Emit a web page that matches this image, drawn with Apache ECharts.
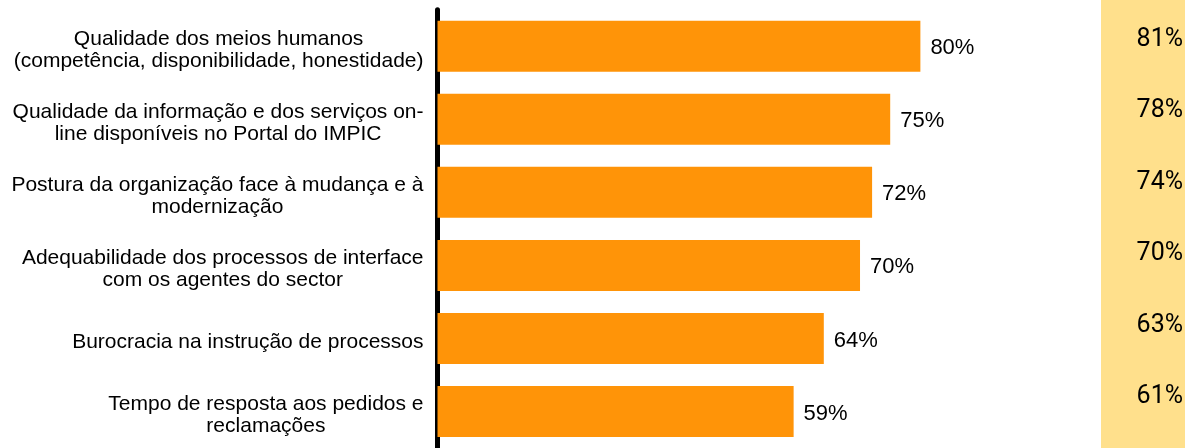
<!DOCTYPE html>
<html><head><meta charset="utf-8">
<script src="https://cdn.jsdelivr.net/npm/echarts@6/dist/echarts.min.js"></script>
<style>html,body{margin:0;padding:0;background:#fff}#c{width:1185px;height:448px}</style>
</head><body><div id="c"></div>
<script>
const categories = [
  'Qualidade dos meios humanos\n(competência, disponibilidade, honestidade)',
  'Qualidade da informação e dos serviços on-\nline disponíveis no Portal do IMPIC',
  'Postura da organização face à mudança e à\nmodernização',
  'Adequabilidade dos processos de interface\ncom os agentes do sector',
  'Burocracia na instrução de processos',
  'Tempo de resposta aos pedidos e\nreclamações'
];
const values = [80, 75, 72, 70, 64, 59];
const benchmark = [81, 78, 74, 70, 63, 61];

const chart = echarts.init(document.getElementById('c'), null, {renderer: 'canvas'});
chart.setOption({
  animation: false,
  backgroundColor: '#fff',
  grid: [
    {left: 437.5, top: 9.75, width: 603.6, height: 441},
    {left: 1101, top: 0, right: 0, bottom: 0, show: true, backgroundColor: '#FFE08C', borderWidth: 0},
    {left: 1183, top: 3.9, width: 1, height: 428.8}
  ],
  xAxis: [
    {gridIndex: 0, type: 'value', min: 0, max: 100, show: false},
    {gridIndex: 1, type: 'value', show: false},
    {gridIndex: 2, type: 'value', show: false}
  ],
  yAxis: [
    {gridIndex: 0, type: 'category', data: categories, inverse: true,
     axisLine: {show: true, lineStyle: {color: '#000', width: 5}},
     axisTick: {show: false}, splitLine: {show: false},
     axisLabel: {interval: 0, margin: 14, align: 'right', padding: [8, 0, 0, 0],
       formatter: v => v.split('\n').map(s => '{c|' + s + '}').join('\n'),
       rich: {c: {align: 'center', fontSize: 21, lineHeight: 22, fontFamily: '"Liberation Sans", Arial, sans-serif', color: '#000'}}
     }},
    {gridIndex: 1, type: 'category', show: false},
    {gridIndex: 2, type: 'category', data: benchmark, inverse: true,
     axisLine: {show: false}, axisTick: {show: false}, splitLine: {show: false},
     axisLabel: {interval: 0, margin: 0, align: 'right', color: '#000', fontSize: 25,
       fontFamily: 'Roboto, sans-serif',
       formatter: v => v + '%'}}
  ],
  series: [{
    type: 'bar', xAxisIndex: 0, yAxisIndex: 0, data: values, barWidth: 51,
    itemStyle: {color: '#FF9408'},
    label: {show: true, position: 'right', distance: 10, offset: [0, 2], formatter: '{c}%',
      fontSize: 22, fontFamily: '"Liberation Sans", Arial, sans-serif', color: '#000'}
  }]
});
</script></body></html>
